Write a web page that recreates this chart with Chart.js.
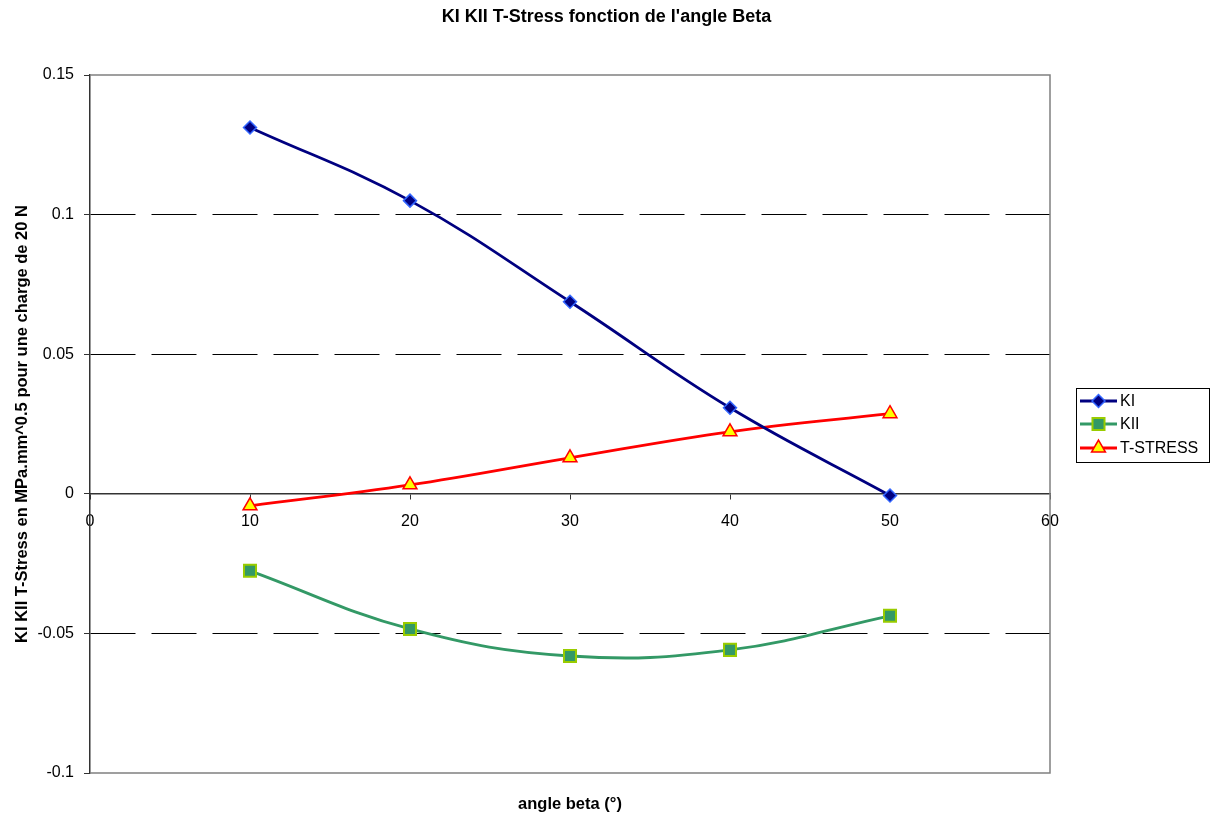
<!DOCTYPE html>
<html><head><meta charset="utf-8">
<script src="https://cdn.jsdelivr.net/npm/chart.js@4"></script>
<style>html,body{margin:0;padding:0;background:#fff}#wrap{width:1213px;height:814px}canvas{display:block}</style>
</head><body><div id="wrap"><canvas id="c" width="1213" height="814"></canvas></div>
<script>
const angles = [10, 20, 30, 40, 50];
const kiValues = [0.1312, 0.1050, 0.0688, 0.0308, -0.0006];
const kiiValues = [-0.0276, -0.0484, -0.0581, -0.0559, -0.0437];
const tStressValues = [-0.0043, 0.0032, 0.0129, 0.0222, 0.0287];
const seriesNames = ['KI', 'KII', 'T-STRESS'];
const xTicks = [0, 10, 20, 30, 40, 50, 60];
const yTicks = [-0.1, -0.05, 0, 0.05, 0.1, 0.15];
const yTickLabels = ['-0.1', '-0.05', '0', '0.05', '0.1', '0.15'];
const dashedGridValues = [-0.05, 0.05, 0.1];
const chartTitle = "KI KII T-Stress fonction de l'angle Beta";
const xTitle = 'angle beta (°)';
const yTitle = 'KI KII T-Stress en MPa.mm^0.5 pour une charge de 20 N';

const FONT = "'Liberation Sans', Arial, sans-serif";

function pts(vals) { return angles.map((a, i) => ({x: a, y: vals[i]})); }

const styles = [
  {line: '#000080', fill: '#000080', border: '#3366FF', pointStyle: 'rectRot', radius: 6.5, bw: 1.5},
  {line: '#339966', fill: '#339966', border: '#99CC00', pointStyle: 'rect', radius: 8.5, bw: 2},
  {line: '#FF0000', fill: '#FFFF00', border: '#FF0000', pointStyle: 'triangle', radius: 8, bw: 1.5}
];
const seriesValues = [kiValues, kiiValues, tStressValues];

const datasets = seriesNames.map((name, i) => ({
  label: name,
  data: pts(seriesValues[i]),
  borderColor: styles[i].line,
  borderWidth: 2.8,
  tension: 0.4,
  pointStyle: styles[i].pointStyle,
  pointRadius: styles[i].radius,
  pointHoverRadius: styles[i].radius,
  pointBackgroundColor: styles[i].fill,
  pointBorderColor: styles[i].border,
  pointBorderWidth: styles[i].bw,
  fill: false
}));

const annotPlugin = {
  id: 'annot',
  beforeDatasetsDraw(chart) {
    const {ctx, chartArea: a} = chart;
    ctx.save();
    ctx.strokeStyle = '#808080';
    ctx.lineWidth = 1.5;
    ctx.beginPath();
    ctx.moveTo(a.left, a.top); ctx.lineTo(a.right, a.top); ctx.lineTo(a.right, a.bottom); ctx.lineTo(a.left, a.bottom);
    ctx.stroke();
    ctx.restore();
  },
  afterDraw(chart) {
    const {ctx, chartArea: a} = chart;
    ctx.save();
    ctx.fillStyle = '#000';
    ctx.textAlign = 'center';
    ctx.textBaseline = 'alphabetic';
    ctx.font = 'bold 18px ' + FONT;
    ctx.fillText(chartTitle, chart.width / 2, 22);
    ctx.font = 'bold 16.5px ' + FONT;
    ctx.fillText(xTitle, (a.left + a.right) / 2, 809);
    ctx.save();
    ctx.translate(27, (a.top + a.bottom) / 2);
    ctx.rotate(-Math.PI / 2);
    ctx.fillText(yTitle, 0, 0);
    ctx.restore();

    // legend
    const lx = 1076, ly = 388, lw = 133, lh = 74;
    ctx.strokeStyle = '#000';
    ctx.lineWidth = 1;
    ctx.strokeRect(lx + 0.5, ly + 0.5, lw, lh);
    const rows = [401, 424, 448];
    ctx.font = '16px ' + FONT;
    ctx.textAlign = 'left';
    ctx.textBaseline = 'middle';
    seriesNames.forEach((name, i) => {
      const s = styles[i];
      const y = rows[i];
      ctx.strokeStyle = s.line;
      ctx.lineWidth = 2.8;
      ctx.beginPath(); ctx.moveTo(1080, y); ctx.lineTo(1117, y); ctx.stroke();
      ctx.fillStyle = s.fill;
      ctx.strokeStyle = s.border;
      ctx.lineWidth = s.bw;
      Chart.helpers.drawPoint(ctx, {pointStyle: s.pointStyle, radius: s.radius, rotation: 0, borderWidth: s.bw}, 1098.5, y);
      ctx.fillStyle = '#000';
      ctx.fillText(name, 1120, y + 1);
    });
    ctx.restore();
  }
};

new Chart(document.getElementById('c'), {
  type: 'line',
  data: {datasets},
  options: {
    responsive: false,
    animation: false,
    devicePixelRatio: 1,
    layout: {padding: {top: 75, right: 163, bottom: 41, left: 0}},
    plugins: {legend: {display: false}, title: {display: false}, tooltip: {enabled: false}},
    scales: {
      x: {
        type: 'linear',
        min: 0, max: 60,
        position: {y: 0},
        afterBuildTicks: s => { s.ticks = xTicks.map(v => ({value: v})); },
        ticks: {font: {family: FONT, size: 16}, color: '#000', padding: 13, maxRotation: 0},
        grid: {drawOnChartArea: false, drawTicks: true, tickLength: 5, tickColor: '#333'},
        border: {color: '#333', width: 1.5}
      },
      y: {
        type: 'linear',
        min: -0.1, max: 0.15,
        afterBuildTicks: s => { s.ticks = yTicks.map(v => ({value: v})); },
        afterFit: s => { s.width = 90; },
        ticks: {font: {family: FONT, size: 16}, color: '#000', padding: 10, callback: (v, i) => yTickLabels[i]},
        grid: {
          color: c => (c.tick && dashedGridValues.some(d => Math.abs(d - c.tick.value) < 1e-9)) ? '#000' : 'rgba(0,0,0,0)',
          lineWidth: 1,
          tickColor: '#333', tickLength: 6, drawTicks: true
        },
        border: {color: '#333', width: 1.5, dash: [45, 16]}
      }
    }
  },
  plugins: [annotPlugin]
});
</script>
</body></html>
